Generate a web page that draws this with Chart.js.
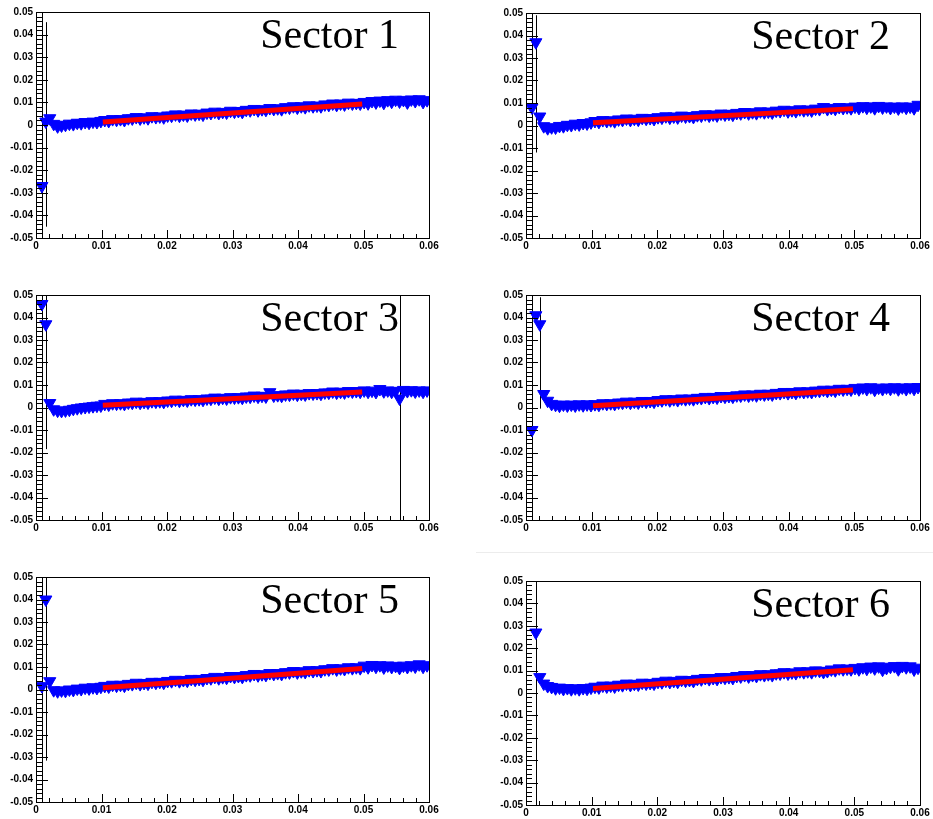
<!DOCTYPE html>
<html>
<head>
<meta charset="utf-8">
<title>Sectors</title>
<script src="https://cdn.jsdelivr.net/npm/chart.js@4.4.0/dist/chart.umd.min.js"></script>
<style>
  body { margin: 0; background: #fff; }
  #page { position: relative; width: 933px; height: 819px; overflow: hidden; background: #fff; }
  #page canvas { position: absolute; }
  .sep { position: absolute; left: 476px; top: 552px; width: 457px; height: 1px; background: #ececec; }
</style>
</head>
<body>
<div id="page"><div class="sep"></div></div>
<script>
// bin centres (x) shared by all six sectors
const xBins = [
  0.0009, 0.0015, 0.0021, 0.0027, 0.0033, 0.0039, 0.0045, 0.0051, 0.0057, 0.0063,
  0.0069, 0.0075, 0.0081, 0.0087, 0.0093, 0.0099, 0.0105, 0.0111, 0.0117, 0.0123,
  0.0129, 0.0135, 0.0141, 0.0147, 0.0153, 0.0159, 0.0165, 0.0171, 0.0177, 0.0183,
  0.0189, 0.0195, 0.0201, 0.0207, 0.0213, 0.0219, 0.0225, 0.0231, 0.0237, 0.0243,
  0.0249, 0.0255, 0.0261, 0.0267, 0.0273, 0.0279, 0.0285, 0.0291, 0.0297, 0.0303,
  0.0309, 0.0315, 0.0321, 0.0327, 0.0333, 0.0339, 0.0345, 0.0351, 0.0357, 0.0363,
  0.0369, 0.0375, 0.0381, 0.0387, 0.0393, 0.0399, 0.0405, 0.0411, 0.0417, 0.0423,
  0.0429, 0.0435, 0.0441, 0.0447, 0.0453, 0.0459, 0.0465, 0.0471, 0.0477, 0.0483,
  0.0489, 0.0495, 0.0501, 0.0507, 0.0513, 0.0519, 0.0525, 0.0531, 0.0537, 0.0543,
  0.0549, 0.0555, 0.0561, 0.0567, 0.0573, 0.0579, 0.0585, 0.0591, 0.0597
];

const sectorNames = ['Sector 1', 'Sector 2', 'Sector 3', 'Sector 4', 'Sector 5', 'Sector 6'];

const sector1Y = [
  -0.027, 0.0015, 0.003, 0.0005, -0.0006, -0.0002, 0.0001, 0.0006, 0.0004, 0.0010,
  0.0008, 0.0013, 0.0010, 0.0015, 0.0013, 0.0018, 0.0022, 0.0018, 0.0026, 0.0023,
  0.0026, 0.0022, 0.0030, 0.0029, 0.0035, 0.0029, 0.0034, 0.0030, 0.0039, 0.0035,
  0.0038, 0.0034, 0.0042, 0.0041, 0.0047, 0.0041, 0.0046, 0.0042, 0.0051, 0.0047,
  0.0050, 0.0046, 0.0055, 0.0053, 0.0059, 0.0053, 0.0058, 0.0055, 0.0063, 0.0059,
  0.0062, 0.0058, 0.0067, 0.0065, 0.0071, 0.0065, 0.0070, 0.0067, 0.0075, 0.0071,
  0.0074, 0.0070, 0.0079, 0.0077, 0.0083, 0.0077, 0.0083, 0.0079, 0.0087, 0.0083,
  0.0086, 0.0083, 0.0091, 0.0089, 0.0095, 0.0089, 0.0095, 0.0091, 0.0099, 0.0095,
  0.0098, 0.0095, 0.0102, 0.0096, 0.0106, 0.0100, 0.0108, 0.0098, 0.0110, 0.0103,
  0.0112, 0.0104, 0.0111, 0.0100, 0.0113, 0.0106, 0.0114, 0.0102, 0.0110
];
const sector2Y = [
  0.008, 0.037, 0.004, -0.0003, -0.0012, -0.0008, -0.0009, -0.0002, -0.0003, 0.0003,
  0.0002, 0.0008, 0.0005, 0.0011, 0.0009, 0.0014, 0.0020, 0.0016, 0.0024, 0.0020,
  0.0023, 0.0019, 0.0027, 0.0025, 0.0031, 0.0025, 0.0030, 0.0026, 0.0034, 0.0030,
  0.0033, 0.0029, 0.0037, 0.0035, 0.0041, 0.0035, 0.0040, 0.0036, 0.0044, 0.0040,
  0.0042, 0.0038, 0.0046, 0.0044, 0.0050, 0.0044, 0.0049, 0.0045, 0.0053, 0.0049,
  0.0052, 0.0048, 0.0056, 0.0054, 0.0060, 0.0054, 0.0059, 0.0055, 0.0063, 0.0059,
  0.0062, 0.0058, 0.0066, 0.0064, 0.0070, 0.0063, 0.0068, 0.0064, 0.0072, 0.0068,
  0.0071, 0.0067, 0.0075, 0.0073, 0.0082, 0.0073, 0.0078, 0.0074, 0.0082, 0.0078,
  0.0081, 0.0077, 0.0084, 0.0078, 0.0086, 0.0079, 0.0085, 0.0077, 0.0087, 0.0080,
  0.0085, 0.0078, 0.0084, 0.0076, 0.0085, 0.0079, 0.0084, 0.0077, 0.0092
];
const sector3Y = [
  0.046, 0.037, 0.002, -0.0008, -0.0014, -0.0015, -0.0013, -0.0010, -0.0006, -0.0003,
  0.0000, 0.0002, 0.0004, 0.0006, 0.0008, 0.0009, 0.0016, 0.0013, 0.0019, 0.0017,
  0.0019, 0.0016, 0.0022, 0.0021, 0.0026, 0.0021, 0.0025, 0.0022, 0.0028, 0.0026,
  0.0028, 0.0025, 0.0031, 0.0030, 0.0035, 0.0030, 0.0034, 0.0031, 0.0037, 0.0035,
  0.0037, 0.0034, 0.0040, 0.0039, 0.0044, 0.0039, 0.0043, 0.0040, 0.0046, 0.0044,
  0.0046, 0.0043, 0.0049, 0.0048, 0.0053, 0.0048, 0.0052, 0.0049, 0.0068, 0.0053,
  0.0055, 0.0052, 0.0058, 0.0057, 0.0062, 0.0057, 0.0061, 0.0058, 0.0064, 0.0062,
  0.0064, 0.0061, 0.0067, 0.0066, 0.0071, 0.0066, 0.0070, 0.0067, 0.0073, 0.0071,
  0.0073, 0.0070, 0.0076, 0.0070, 0.0075, 0.0069, 0.0082, 0.0072, 0.0076, 0.0070,
  0.0074, 0.0040, 0.0078, 0.0073, 0.0077, 0.0071, 0.0076, 0.0070, 0.0076
];
const sector4Y = [
  -0.010, 0.041, 0.037, 0.006, 0.0030, 0.0016, 0.0012, 0.0008, 0.0013, 0.0009,
  0.0013, 0.0009, 0.0014, 0.0010, 0.0014, 0.0011, 0.0015, 0.0012, 0.0019, 0.0016,
  0.0019, 0.0016, 0.0022, 0.0021, 0.0026, 0.0021, 0.0026, 0.0022, 0.0029, 0.0026,
  0.0029, 0.0026, 0.0033, 0.0032, 0.0037, 0.0032, 0.0037, 0.0033, 0.0040, 0.0037,
  0.0040, 0.0037, 0.0043, 0.0042, 0.0047, 0.0042, 0.0047, 0.0044, 0.0051, 0.0048,
  0.0051, 0.0048, 0.0054, 0.0053, 0.0058, 0.0053, 0.0058, 0.0054, 0.0061, 0.0058,
  0.0061, 0.0058, 0.0065, 0.0064, 0.0069, 0.0064, 0.0069, 0.0065, 0.0072, 0.0069,
  0.0072, 0.0069, 0.0075, 0.0074, 0.0079, 0.0074, 0.0079, 0.0075, 0.0083, 0.0080,
  0.0083, 0.0080, 0.0087, 0.0081, 0.0089, 0.0082, 0.0090, 0.0079, 0.0088, 0.0082,
  0.0089, 0.0083, 0.0090, 0.0081, 0.0089, 0.0082, 0.0090, 0.0083, 0.0091
];
const sector5Y = [
  0.0015, 0.040, 0.0037, -0.0003, -0.0008, -0.0004, -0.0006, 0.0000, -0.0002, 0.0004,
  0.0002, 0.0008, 0.0005, 0.0010, 0.0007, 0.0012, 0.0016, 0.0013, 0.0021, 0.0017,
  0.0021, 0.0017, 0.0025, 0.0024, 0.0030, 0.0024, 0.0029, 0.0026, 0.0034, 0.0030,
  0.0034, 0.0030, 0.0038, 0.0037, 0.0043, 0.0037, 0.0042, 0.0039, 0.0047, 0.0043,
  0.0047, 0.0043, 0.0051, 0.0050, 0.0056, 0.0050, 0.0055, 0.0052, 0.0060, 0.0056,
  0.0060, 0.0056, 0.0064, 0.0063, 0.0069, 0.0063, 0.0068, 0.0065, 0.0073, 0.0069,
  0.0073, 0.0069, 0.0077, 0.0076, 0.0082, 0.0076, 0.0081, 0.0078, 0.0086, 0.0082,
  0.0086, 0.0082, 0.0090, 0.0089, 0.0095, 0.0089, 0.0094, 0.0091, 0.0099, 0.0095,
  0.0099, 0.0095, 0.0106, 0.0099, 0.0109, 0.0101, 0.0108, 0.0098, 0.0107, 0.0100,
  0.0105, 0.0096, 0.0106, 0.0100, 0.0108, 0.0102, 0.0112, 0.0101, 0.0108
];
const sector6Y = [
  null, 0.027, 0.0071, 0.0042, 0.0031, 0.0027, 0.0021, 0.0024, 0.0018, 0.0022,
  0.0017, 0.0021, 0.0017, 0.0022, 0.0019, 0.0024, 0.0028, 0.0025, 0.0033, 0.0029,
  0.0033, 0.0029, 0.0037, 0.0035, 0.0042, 0.0036, 0.0041, 0.0038, 0.0046, 0.0042,
  0.0045, 0.0042, 0.0050, 0.0048, 0.0055, 0.0049, 0.0054, 0.0050, 0.0059, 0.0055,
  0.0058, 0.0054, 0.0063, 0.0061, 0.0067, 0.0062, 0.0067, 0.0063, 0.0071, 0.0068,
  0.0071, 0.0067, 0.0076, 0.0074, 0.0080, 0.0074, 0.0080, 0.0076, 0.0084, 0.0080,
  0.0084, 0.0080, 0.0088, 0.0087, 0.0093, 0.0087, 0.0092, 0.0089, 0.0097, 0.0093,
  0.0097, 0.0093, 0.0101, 0.0099, 0.0094, 0.0098, 0.0105, 0.0102, 0.0110, 0.0106,
  0.0109, 0.0106, 0.0112, 0.0106, 0.0115, 0.0108, 0.0118, 0.0110, 0.0119, 0.0104,
  0.0112, 0.0117, 0.0120, 0.0106, 0.0121, 0.0115, 0.0119, 0.0105, 0.0113
];

// bins that carry a visible error bar (index into xBins) and their down / up errors
const errBins = [[0, 1], [0, 1], [0, 1, 91], [0, 2], [0, 1], [1]];
const errLow  = [[0.1, 0.0465], [0.1, 0.049], [0.1, 0.0555, 0.1], [0.1, 0.0375], [0.1, 0.0716], [0.1]];
const errHigh = [[0.1, 0.044], [0.1, 0.012], [0.1, 0.02, 0.1], [0.1, 0.012], [0.1, 0.01], [0.1]];

// straight-line fit drawn from fitX[0] to fitX[1]
const fitX = [0.0102, 0.0498];
const fitY = [
  [0.0013, 0.0093],
  [0.0012, 0.0075],
  [0.0010, 0.0069],
  [0.0008, 0.0078],
  [0.0008, 0.0093],
  [0.0020, 0.0104]
];

const xTicks = [0, 0.01, 0.02, 0.03, 0.04, 0.05, 0.06];
const yTicks = [-0.05, -0.04, -0.03, -0.02, -0.01, 0, 0.01, 0.02, 0.03, 0.04, 0.05];

const allY = [sector1Y, sector2Y, sector3Y, sector4Y, sector5Y, sector6Y];

// frame (plot area) of every pad on the page
const frames = [
  { l: 36,  t: 12,  r: 429, b: 238 },
  { l: 526, t: 13,  r: 920, b: 238 },
  { l: 36,  t: 295, r: 429, b: 520 },
  { l: 526, t: 295, r: 920, b: 520 },
  { l: 36,  t: 577, r: 429, b: 802 },
  { l: 526, t: 581, r: 920, b: 805 }
];
const padRight = 12;

function fmt(v) {
  if (Math.abs(v) < 1e-9) return '0';
  return v.toFixed(2);
}

// ROOT-like frame with ticks pointing inward
const framePlugin = {
  id: 'frame',
  afterDatasetsDraw(chart) {
    const ctx = chart.ctx, a = chart.chartArea;
    const xs = chart.scales.x, ys = chart.scales.y;
    ctx.save();
    ctx.strokeStyle = '#000';
    ctx.lineWidth = 1;
    ctx.beginPath();
    for (let k = 0; k <= 50; k++) {
      const py = Math.round(ys.getPixelForValue(-0.05 + k * 0.002)) + 0.5;
      const len = k % 5 === 0 ? 12 : 6;
      ctx.moveTo(a.left, py);
      ctx.lineTo(a.left + len, py);
    }
    for (let k = 0; k <= 30; k++) {
      const px = Math.round(xs.getPixelForValue(k * 0.002)) + 0.5;
      const len = k % 5 === 0 ? 8 : 4;
      ctx.moveTo(px, a.bottom);
      ctx.lineTo(px, a.bottom - len);
    }
    ctx.stroke();
    ctx.strokeRect(Math.round(a.left) + 0.5, Math.round(a.top) + 0.5,
      Math.round(a.right - a.left), Math.round(a.bottom - a.top));
    ctx.restore();
  }
};

const errorPlugin = {
  id: 'errbars',
  beforeDatasetsDraw(chart, args, opts) {
    const ctx = chart.ctx, a = chart.chartArea;
    const xs = chart.scales.x, ys = chart.scales.y;
    const p = opts.pad;
    ctx.save();
    ctx.beginPath();
    ctx.rect(a.left, a.top, a.right - a.left, a.bottom - a.top);
    ctx.clip();
    ctx.strokeStyle = '#000';
    ctx.lineWidth = 1;
    ctx.beginPath();
    errBins[p].forEach(function (bin, j) {
      const y = allY[p][bin];
      const px = Math.round(xs.getPixelForValue(xBins[bin])) + 0.5;
      ctx.moveTo(px, ys.getPixelForValue(y + errHigh[p][j]));
      ctx.lineTo(px, ys.getPixelForValue(y - errLow[p][j]));
    });
    ctx.stroke();
    ctx.restore();
  }
};

const labelPlugin = {
  id: 'sectorLabel',
  afterDraw(chart, args, opts) {
    const ctx = chart.ctx, a = chart.chartArea;
    ctx.save();
    ctx.fillStyle = '#000';
    ctx.font = '42px "Liberation Serif", "Times New Roman", serif';
    ctx.textAlign = 'right';
    ctx.textBaseline = 'alphabetic';
    ctx.fillText(opts.text, a.right - 30, a.top + 36);
    ctx.restore();
  }
};

const page = document.getElementById('page');
const tickFont = { family: 'Liberation Sans', size: 10, weight: 'bold' };

for (let p = 0; p < 6; p++) {
  const f = frames[p];
  const canvas = document.createElement('canvas');
  const w = f.r - f.l + 36 + padRight;
  const h = f.b - f.t + 12 + 16;
  canvas.width = w;
  canvas.height = h;
  canvas.style.left = (f.l - 36) + 'px';
  canvas.style.top = (f.t - 12) + 'px';
  canvas.style.width = w + 'px';
  canvas.style.height = h + 'px';
  page.appendChild(canvas);

  const points = [];
  for (let i = 0; i < xBins.length; i++) {
    if (allY[p][i] !== null) points.push({ x: xBins[i], y: allY[p][i] });
  }

  new Chart(canvas, {
    type: 'scatter',
    data: {
      datasets: [
        {
          type: 'line',
          data: [{ x: fitX[0], y: fitY[p][0] }, { x: fitX[1], y: fitY[p][1] }],
          borderColor: '#ff0000',
          borderWidth: 5,
          pointRadius: 0,
          fill: false,
          order: 0
        },
        {
          data: points,
          pointStyle: 'triangle',
          pointRotation: 180,
          pointRadius: 7,
          backgroundColor: '#0000ff',
          borderColor: '#0000ff',
          borderWidth: 1,
          order: 1
        }
      ]
    },
    options: {
      responsive: false,
      animation: false,
      devicePixelRatio: 1,
      layout: { padding: { top: 12, right: padRight, left: 0, bottom: 0 } },
      plugins: {
        legend: { display: false },
        tooltip: { enabled: false },
        errbars: { pad: p },
        sectorLabel: { text: sectorNames[p] }
      },
      scales: {
        x: {
          type: 'linear',
          min: 0,
          max: 0.06,
          grid: { display: false, drawTicks: false },
          border: { display: false },
          afterBuildTicks: function (s) { s.ticks = xTicks.map(v => ({ value: v })); },
          afterFit: function (s) { s.height = 16; },
          ticks: { color: '#000', font: tickFont, padding: 2, maxRotation: 0, autoSkip: false, callback: fmt }
        },
        y: {
          type: 'linear',
          min: -0.05,
          max: 0.05,
          grid: { display: false, drawTicks: false },
          border: { display: false },
          afterBuildTicks: function (s) { s.ticks = yTicks.map(v => ({ value: v })); },
          afterFit: function (s) { s.width = 36; },
          ticks: { color: '#000', font: tickFont, padding: 3, autoSkip: false, callback: fmt }
        }
      }
    },
    plugins: [errorPlugin, framePlugin, labelPlugin]
  });
}
</script>
</body>
</html>
